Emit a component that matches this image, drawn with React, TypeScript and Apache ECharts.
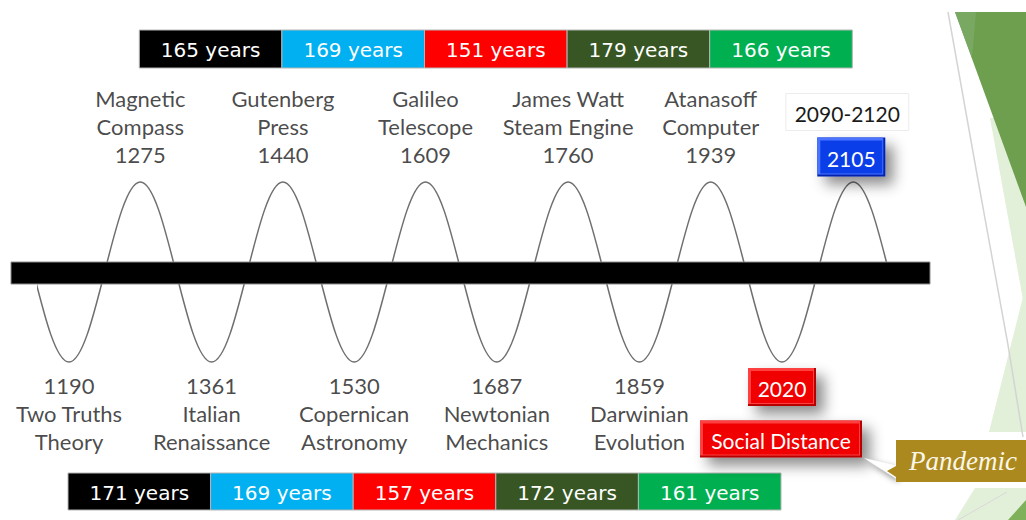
import React, { useEffect, useRef } from "react";
import * as echarts from "echarts";

// ---- data ----
const eventYears = ["1190", "1275", "1361", "1440", "1530", "1609", "1687", "1760", "1859", "1939", "2020", "2105"];
const eventNames = [
  "Two Truths\nTheory",
  "Magnetic\nCompass",
  "Italian\nRenaissance",
  "Gutenberg\nPress",
  "Copernican\nAstronomy",
  "Galileo\nTelescope",
  "Newtonian\nMechanics",
  "James Watt\nSteam Engine",
  "Darwinian\nEvolution",
  "Atanasoff\nComputer",
  "Social Distance",
  "2090-2120",
];
// -1 = trough (below the bar), 1 = peak (above the bar)
const eventSides = [-1, 1, -1, 1, -1, 1, -1, 1, -1, 1, -1, 1];
const boxedEvents = [10, 11];
const topGapYears = [165, 169, 151, 179, 166];
const bottomGapYears = [171, 169, 157, 172, 161];
const gapColors = ["#000000", "#00b0f0", "#ff0000", "#375623", "#00b050"];
const waveIndex = [-2, -1, 0, 1, 2, 3, 4, 5, 6, 7, 8, 9, 10, 11, 12, 13];
const waveValues = [-1, 1, -1, 1, -1, 1, -1, 1, -1, 1, -1, 1, -1, 1, -1, 1];
const calloutText = "Pandemic";

// ---- layout ----
const W = 1026;
const H = 520;
const X0 = 69;
const STEP = 71.3;
const Y0 = 272;
const AMP = 90;
const WAVE_LEFT = 38;
const WAVE_RIGHT = 885;
const LABEL_FONT = "Lato";
const BAR_FONT = "DejaVu Sans";

export default function App() {
  const ref = useRef<HTMLDivElement>(null);
  useEffect(() => {
    if (!ref.current) return;
    const chart = echarts.init(ref.current, null, { renderer: "svg" });

    const labelData = eventYears
      .map((y, i) => i)
      .filter((i) => boxedEvents.indexOf(i) < 0)
      .map((i) => ({
        value: [i, eventSides[i]],
        label: {
          position: eventSides[i] > 0 ? "top" : "bottom",
          distance: eventSides[i] > 0 ? 14 : 9,
          formatter:
            eventSides[i] > 0
              ? `${eventNames[i]}\n${eventYears[i]}`
              : `${eventYears[i]}\n${eventNames[i]}`,
        },
      }));

    const gapData: any[] = [];
    topGapYears.forEach((g, k) => gapData.push([2 * k + 1, 2 * k + 3, 1, k, g]));
    bottomGapYears.forEach((g, k) => gapData.push([2 * k, 2 * k + 2, -1, k, g]));

    const bevelBox = (cx: number, cy: number, w: number, h: number, text: string, outer: string, inner: string, hi: string) => ({
      type: "group",
      children: [
        {
          type: "rect",
          shape: { x: cx - w / 2, y: cy - h / 2, width: w, height: h },
          style: {
            fill: outer,
            shadowBlur: 14,
            shadowOffsetX: 8,
            shadowOffsetY: 8,
            shadowColor: "rgba(0,0,0,0.45)",
          },
        },
        {
          type: "rect",
          shape: { x: cx - w / 2, y: cy - h / 2, width: w - 2, height: h - 2 },
          style: { fill: hi },
        },
        {
          type: "rect",
          shape: { x: cx - w / 2 + 3, y: cy - h / 2 + 3, width: w - 6, height: h - 6 },
          style: { fill: inner },
        },
        {
          type: "text",
          style: {
            text,
            x: cx,
            y: cy + 1,
            align: "center",
            verticalAlign: "middle",
            fill: "#ffffff",
            fontSize: 21,
            fontFamily: LABEL_FONT,
          },
        },
      ],
    });

    const option: any = {
      animation: false,
      backgroundColor: "#ffffff",
      grid: { left: WAVE_LEFT, right: W - WAVE_RIGHT, top: 0, bottom: 0 },
      xAxis: {
        type: "value",
        min: (WAVE_LEFT - X0) / STEP,
        max: (WAVE_RIGHT - X0) / STEP,
        show: false,
      },
      yAxis: {
        type: "value",
        min: -(H - Y0) / AMP,
        max: Y0 / AMP,
        show: false,
      },
      graphic: [
        // right-hand theme decoration
        { type: "polygon", z: 0, shape: { points: [[990, 118], [1026, 118], [1026, 305], [1024, 305]] }, style: { fill: "#e2efd9" } },
        { type: "polygon", z: 0, shape: { points: [[955, 12], [1026, 12], [1026, 207]] }, style: { fill: "#6e9f4e" } },
        { type: "polygon", z: 0, shape: { points: [[955, 12], [976, 12], [972, 58]] }, style: { fill: "#79a862" } },
        { type: "polygon", z: 0, shape: { points: [[1026, 285], [989, 432], [1026, 432]] }, style: { fill: "#e2efd9" } },
        { type: "polygon", z: 0, shape: { points: [[975, 488], [1026, 488], [1026, 520], [955, 520]] }, style: { fill: "#e2efd9" } },
        { type: "polygon", z: 0, shape: { points: [[1026, 500], [1026, 520], [1008, 520]] }, style: { fill: "#7fb05a" } },
        { type: "polyline", z: 0, shape: { points: [[948, 12], [978, 180], [1008, 345], [1023, 437]] }, style: { stroke: "#d4d4d4", lineWidth: 1.5, fill: null } },
        { type: "line", z: 0, shape: { x1: 958, y1: 520, x2: 1007, y2: 492 }, style: { stroke: "#d8d8d8", lineWidth: 1 } },
        // central timeline bar
        {
          type: "rect",
          z: 50,
          shape: { x: 11, y: 262, width: 919, height: 22 },
          style: { fill: "#000000", stroke: "#8c8c8c", lineWidth: 1 },
        },
        // pandemic callout
        {
          type: "polygon",
          z: 40,
          shape: { points: [[864, 458], [897, 466], [897, 479]] },
          style: { fill: "#ffffff", shadowBlur: 6, shadowOffsetX: 2, shadowOffsetY: 3, shadowColor: "rgba(0,0,0,0.45)" },
        },
        {
          type: "polygon",
          z: 41,
          shape: { points: [[896, 440], [1026, 440], [1026, 482], [896, 482], [896, 477], [887, 471], [896, 466]] },
          style: { fill: "#ab891e" },
        },
        {
          type: "text",
          z: 42,
          style: {
            text: calloutText,
            x: 909,
            y: 461,
            verticalAlign: "middle",
            fill: "#fbf7e8",
            fontSize: 27,
            fontStyle: "italic",
            fontFamily: "Liberation Serif",
          },
        },
      ],
      series: [
        {
          type: "line",
          data: waveIndex.map((x, i) => [x, waveValues[i]]),
          smooth: 0.3634,
          symbol: "none",
          clip: true,
          lineStyle: { color: "#6f6f6f", width: 1.5 },
          z: 2,
        },
        {
          type: "scatter",
          data: labelData,
          symbolSize: 0,
          label: {
            show: true,
            color: "#1a1a1a",
            fontSize: 22,
            lineHeight: 28,
            fontFamily: LABEL_FONT,
            align: "center",
          },
          z: 3,
        },
        {
          type: "custom",
          data: gapData,
          clip: false,
          z: 4,
          renderItem: (params: any, api: any) => {
            const item = gapData[params.dataIndex];
            const x1 = api.coord([item[0], 0])[0] - 1;
            const x2 = api.coord([item[1], 0])[0] - 1;
            const top = item[2] > 0;
            const y = top ? 30 : 473;
            const h = top ? 38 : 37;
            return {
              type: "group",
              children: [
                {
                  type: "rect",
                  shape: { x: x1, y, width: x2 - x1, height: h },
                  style: { fill: gapColors[item[3]], stroke: "#b5b5b5", lineWidth: 1 },
                },
                {
                  type: "text",
                  style: {
                    text: `${item[4]} years`,
                    x: (x1 + x2) / 2,
                    y: y + h / 2 + 1,
                    align: "center",
                    verticalAlign: "middle",
                    fill: "#ffffff",
                    fontSize: 20,
                    fontFamily: BAR_FONT,
                  },
                },
              ],
            };
          },
        },
        {
          type: "custom",
          data: boxedEvents.map((i) => [i, eventSides[i]]),
          clip: false,
          z: 5,
          renderItem: (params: any, api: any) => {
            const i = boxedEvents[params.dataIndex];
            const p = api.coord([i, eventSides[i]]);
            if (eventSides[i] < 0) {
              return {
                type: "group",
                children: [
                  bevelBox(p[0], p[1] + 25, 68, 38, eventYears[i], "#b80000", "#f00000", "#ff4040"),
                  bevelBox(p[0] - 1, p[1] + 77, 162, 37, eventNames[i], "#b80000", "#f00000", "#ff4040"),
                ],
              };
            }
            return {
              type: "group",
              children: [
                {
                  type: "rect",
                  shape: { x: p[0] - 6 - 61.5, y: p[1] - 70 - 18.5, width: 123, height: 37 },
                  style: { fill: "#ffffff", stroke: "#ececec", lineWidth: 1 },
                },
                {
                  type: "text",
                  style: {
                    text: eventNames[i],
                    x: p[0] - 6,
                    y: p[1] - 70 + 1,
                    align: "center",
                    verticalAlign: "middle",
                    fill: "#1a1a1a",
                    fontSize: 21,
                    fontFamily: LABEL_FONT,
                  },
                },
                bevelBox(p[0] - 2, p[1] - 25, 68, 39, eventYears[i], "#0024b0", "#0a3ee8", "#4a74ff"),
              ],
            };
          },
        },
      ],
    };
    chart.setOption(option);
    return () => chart.dispose();
  }, []);
  return <div ref={ref} style={{ position: "absolute", left: 0, top: 0, width: W, height: H }} />;
}
